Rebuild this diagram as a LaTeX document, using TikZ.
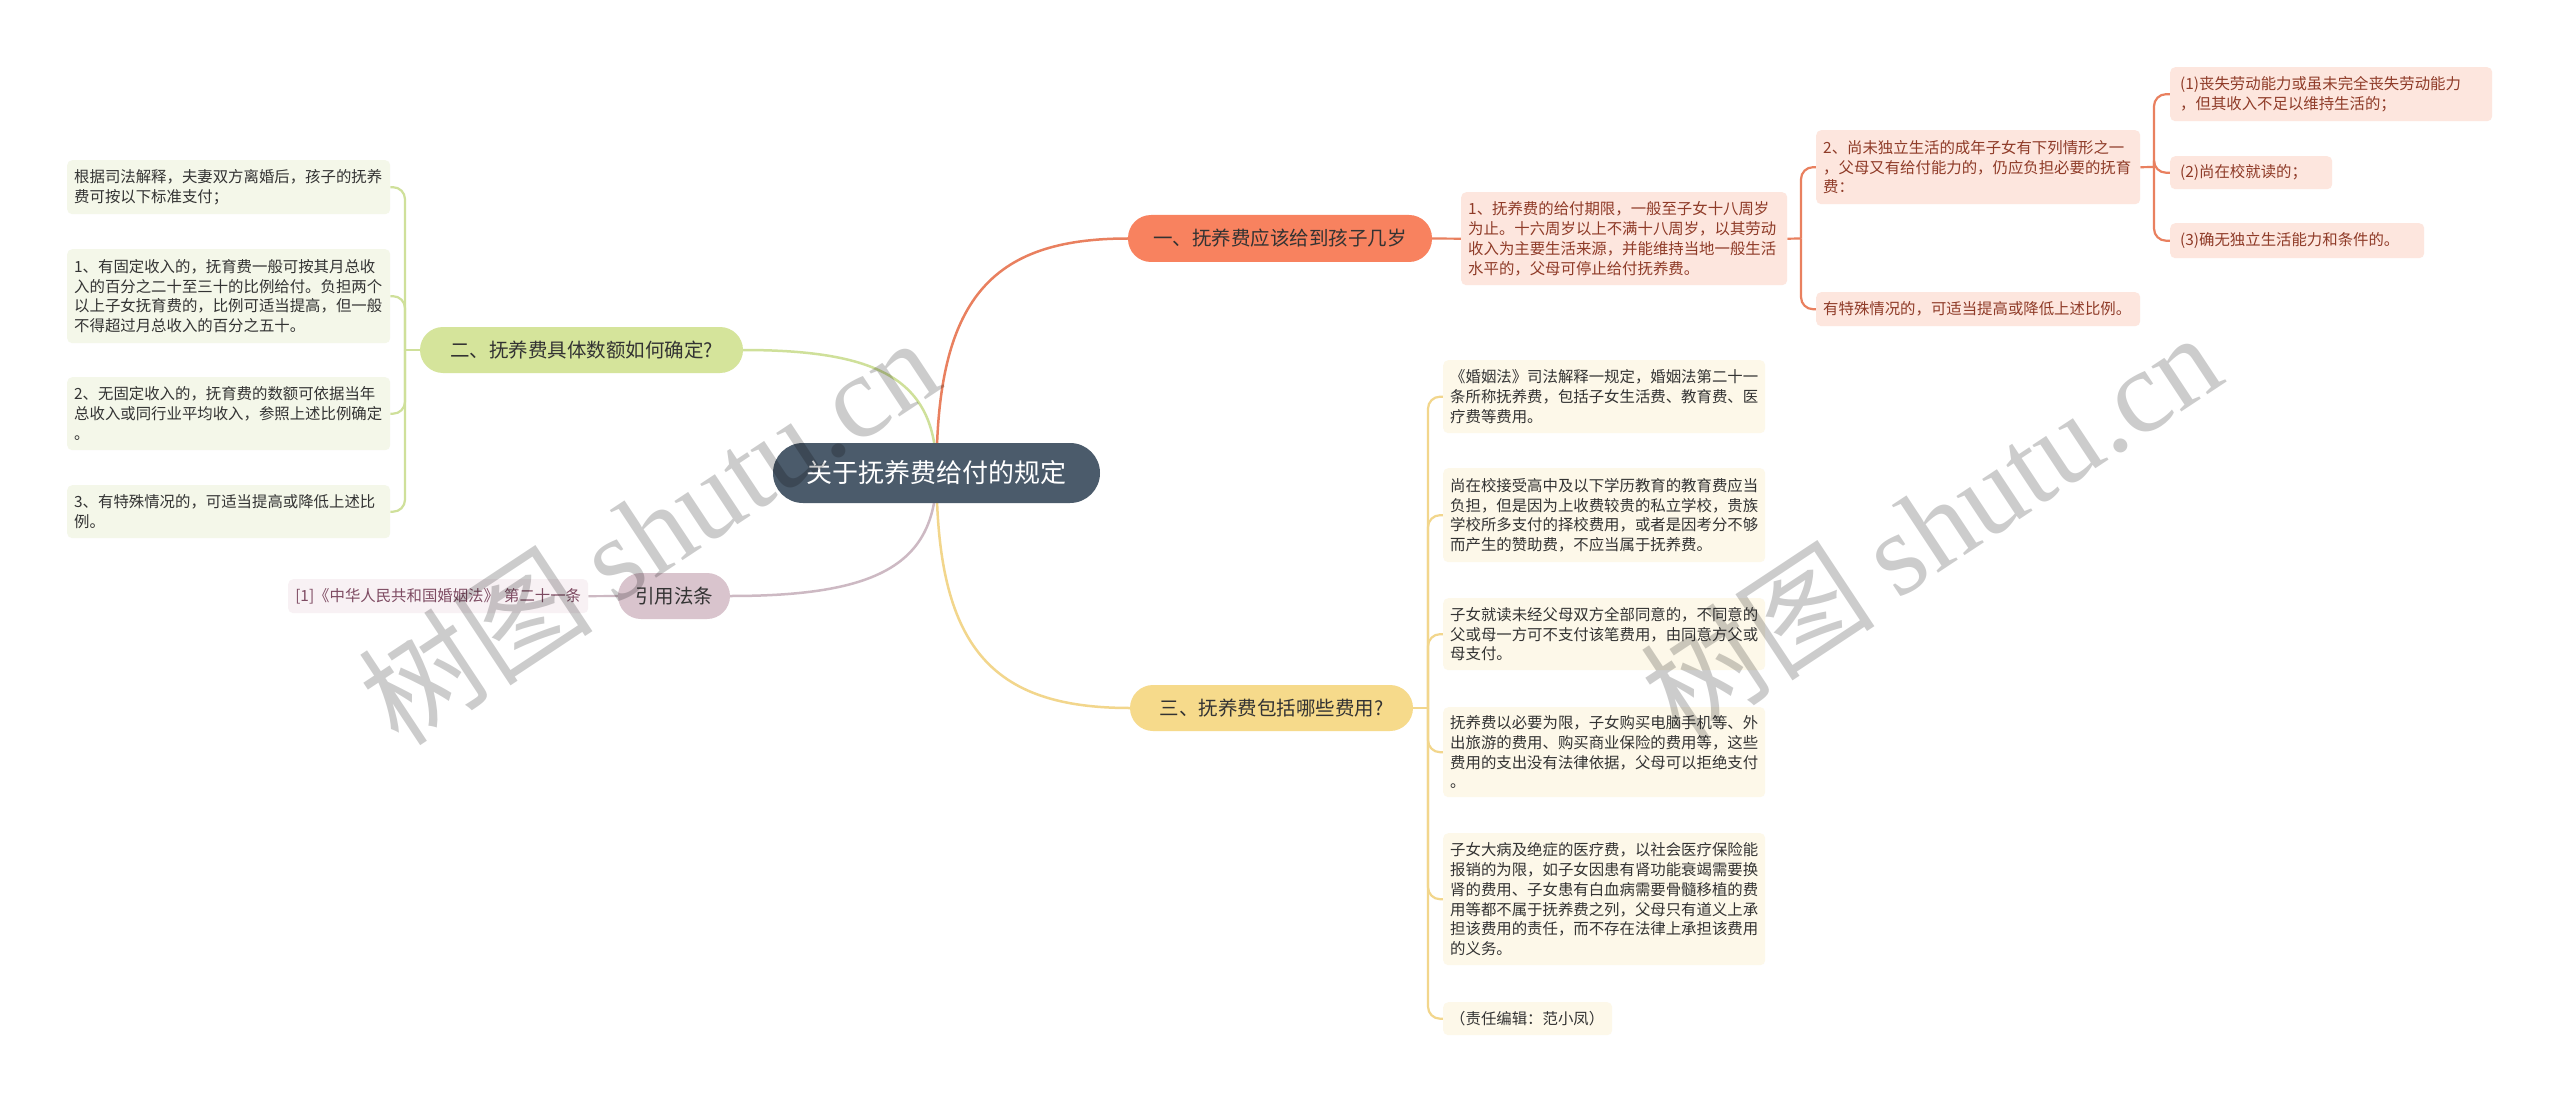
\documentclass[tikz,border=0pt]{standalone}
\usepackage{fontspec}
\newfontfamily\cjk{Noto Sans CJK SC}
\newfontfamily\wmserif{Liberation Serif}
\usetikzlibrary{calc}
\pgfdeclarelayer{bg}
\pgfsetlayers{bg,main}
\definecolor{centerbg}{HTML}{4B5B6B}
\definecolor{obr}{HTML}{F8825F}
\definecolor{oline}{HTML}{E9805F}
\definecolor{oleaf}{HTML}{FDE6DE}
\definecolor{otxt}{HTML}{8F3B28}
\definecolor{gbr}{HTML}{D5E49B}
\definecolor{gline}{HTML}{CFE09A}
\definecolor{gleaf}{HTML}{F4F7E9}
\definecolor{ybr}{HTML}{F6DA8B}
\definecolor{yline}{HTML}{F2D68C}
\definecolor{yleaf}{HTML}{FDF8E9}
\definecolor{mbr}{HTML}{D9C4CD}
\definecolor{mline}{HTML}{CDB9C3}
\definecolor{mleaf}{HTML}{F8F1F4}
\definecolor{mtxt}{HTML}{7E4B62}
\definecolor{dtxt}{HTML}{333333}
\tikzset{
  leafbox/.style={draw=none, rounded corners=5pt, anchor=north west, align=left,
    inner xsep=7pt, inner ysep=0pt, text=dtxt,
    font=\cjk\fontsize{15.4}{19.8}\selectfont},
  gleafbox/.style={leafbox, fill=gleaf},
  yleafbox/.style={leafbox, fill=yleaf},
  oleafbox/.style={leafbox, fill=oleaf, text=otxt},
  mleafbox/.style={leafbox, fill=mleaf, text=mtxt, align=center},
  branchbox/.style={draw=none, rounded corners=23pt, text=dtxt, inner sep=0pt,
    font=\cjk\fontsize{19.5}{22}\selectfont},
  centerbox/.style={draw=none, rounded corners=30pt, fill=centerbg, text=white, inner sep=0pt,
    font=\cjk\fontsize{26}{30}\selectfont},
  olink/.style={draw=oline, line width=2.2pt},
  glink/.style={draw=gline, line width=2.2pt},
  ylink/.style={draw=yline, line width=2.2pt},
  mlink/.style={draw=mline, line width=2.2pt},
  wmark/.style={text=black, opacity=0.2, inner sep=0pt, rotate=33.5,
    font=\fontsize{118}{118}\selectfont}
}
\begin{document}
\begin{tikzpicture}[x=1pt,y=-1pt]
\useasboundingbox (0,0) rectangle (2560,1102);
\begin{pgfonlayer}{bg}
\fill[white] (0,0) rectangle (2560,1102);
\end{pgfonlayer}

% center
\node[centerbox, minimum width=327pt, minimum height=60pt] (c) at (936.5,473) {关于抚养费给付的规定};

% branches
\node[branchbox, fill=obr, minimum width=304pt, minimum height=47pt] (b1) at (1280,238.5) {一、抚养费应该给到孩子几岁};
\node[branchbox, fill=gbr, minimum width=323pt, minimum height=46pt] (b2) at (581.5,350) {二、抚养费具体数额如何确定?};
\node[branchbox, fill=ybr, minimum width=283pt, minimum height=46pt] (b3) at (1271.5,708) {三、抚养费包括哪些费用?};
\node[branchbox, fill=mbr, minimum width=112pt, minimum height=46pt] (b4) at (674,596) {引用法条};

% green leaves
\node[gleafbox, text width=309pt, minimum height=54pt] (ga) at (67,160) {根据司法解释，夫妻双方离婚后，孩子的抚养\\费可按以下标准支付；};
\node[gleafbox, text width=309pt, minimum height=94pt] (gb) at (67,249) {1、有固定收入的，抚育费一般可按其月总收\\入的百分之二十至三十的比例给付。负担两个\\以上子女抚育费的，比例可适当提高，但一般\\不得超过月总收入的百分之五十。};
\node[gleafbox, text width=309pt, minimum height=73pt] (gc) at (67,377) {2、无固定收入的，抚育费的数额可依据当年\\总收入或同行业平均收入，参照上述比例确定\\。};
\node[gleafbox, text width=309pt, minimum height=53pt] (gd) at (67,485) {3、有特殊情况的，可适当提高或降低上述比\\例。};

% mauve leaf
\node[mleafbox, text width=286pt, minimum height=34pt] (ma) at (288,579) {[1]《中华人民共和国婚姻法》 第二十一条};

% orange leaves
\node[oleafbox, text width=312pt, minimum height=93pt] (oa) at (1461,192) {1、抚养费的给付期限，一般至子女十八周岁\\为止。十六周岁以上不满十八周岁，以其劳动\\收入为主要生活来源，并能维持当地一般生活\\水平的，父母可停止给付抚养费。};
\node[oleafbox, text width=310pt, minimum height=74pt] (ob) at (1816,130) {2、尚未独立生活的成年子女有下列情形之一\\，父母又有给付能力的，仍应负担必要的抚育\\费：};
\node[oleafbox, text width=310pt, minimum height=34pt] (oc) at (1816,292) {有特殊情况的，可适当提高或降低上述比例。};
\node[oleafbox, text width=302pt, minimum height=54pt, inner xsep=10pt] (pa) at (2170,67) {(1)丧失劳动能力或虽未完全丧失劳动能力\\，但其收入不足以维持生活的；};
\node[oleafbox, text width=142pt, minimum height=33pt, inner xsep=10pt] (pb) at (2170,156) {(2)尚在校就读的；};
\node[oleafbox, text width=234pt, minimum height=35pt, inner xsep=10pt] (pc) at (2170,223) {(3)确无独立生活能力和条件的。};

% yellow leaves
\node[yleafbox, text width=308pt, minimum height=73pt] (ya) at (1443,360) {《婚姻法》司法解释一规定，婚姻法第二十一\\条所称抚养费，包括子女生活费、教育费、医\\疗费等费用。};
\node[yleafbox, text width=308pt, minimum height=94pt] (yb) at (1443,468) {尚在校接受高中及以下学历教育的教育费应当\\负担，但是因为上收费较贵的私立学校，贵族\\学校所多支付的择校费用，或者是因考分不够\\而产生的赞助费，不应当属于抚养费。};
\node[yleafbox, text width=308pt, minimum height=72pt] (yc) at (1443,598) {子女就读未经父母双方全部同意的，不同意的\\父或母一方可不支付该笔费用，由同意方父或\\母支付。};
\node[yleafbox, text width=308pt, minimum height=90pt] (yd) at (1443,707) {抚养费以必要为限，子女购买电脑手机等、外\\出旅游的费用、购买商业保险的费用等，这些\\费用的支出没有法律依据，父母可以拒绝支付\\。};
\node[yleafbox, text width=308pt, minimum height=132pt] (ye) at (1443,833) {子女大病及绝症的医疗费，以社会医疗保险能\\报销的为限，如子女因患有肾功能衰竭需要换\\肾的费用、子女患有白血病需要骨髓移植的费\\用等都不属于抚养费之列，父母只有道义上承\\担该费用的责任，而不存在法律上承担该费用\\的义务。};
\node[yleafbox, text width=155pt, minimum height=33pt] (yf) at (1443,1002) {（责任编辑：范小凤）};

% trunk coordinates
\coordinate (tg) at (405,350);
\coordinate (to1) at (1801,238.5);
\coordinate (to2) at (2154,167);
\coordinate (ty) at (1428,708);

\begin{pgfonlayer}{bg}
% main curves
\draw[olink, line width=2.5pt] (c.center) .. controls (936.5,300) and (990,238.5) .. (b1.west);
\draw[ylink, line width=2.5pt] (c.center) .. controls (936.5,646) and (990,708) .. (b3.west);
\draw[glink, line width=2.5pt] (c.center) .. controls (936.5,382) and (883,350) .. (b2.east);
\draw[mlink, line width=2.5pt] (c.center) .. controls (936.5,564) and (879,596) .. (b4.east);
% green
\draw[glink] (b2.west) -- (tg);
\foreach \n in {ga,gb,gc,gd} \draw[glink, rounded corners=12pt] (tg) |- (\n.east);
% mauve
\draw[mlink] (ma.east) -- (b4.west);
% orange
\draw[olink] (b1.east) -- (oa.west);
\draw[olink] (oa.east) -- (to1);
\foreach \n in {ob,oc} \draw[olink, rounded corners=12pt] (to1) |- (\n.west);
\draw[olink] (ob.east) -- (to2);
\foreach \n in {pa,pb,pc} \draw[olink, rounded corners=12pt] (to2) |- (\n.west);
% yellow
\draw[ylink] (b3.east) -- (ty);
\foreach \n in {ya,yb,yc,yd,ye,yf} \draw[ylink, rounded corners=12pt] (ty) |- (\n.west);
\end{pgfonlayer}

% watermarks
\node[wmark] (w1) at (648,530) {{\cjk 树图}\hspace{24pt}{\wmserif shutu.cn}};
\node[wmark] (w2) at (1930,525) {{\cjk 树图}\hspace{24pt}{\wmserif shutu.cn}};
\end{tikzpicture}
\end{document}
